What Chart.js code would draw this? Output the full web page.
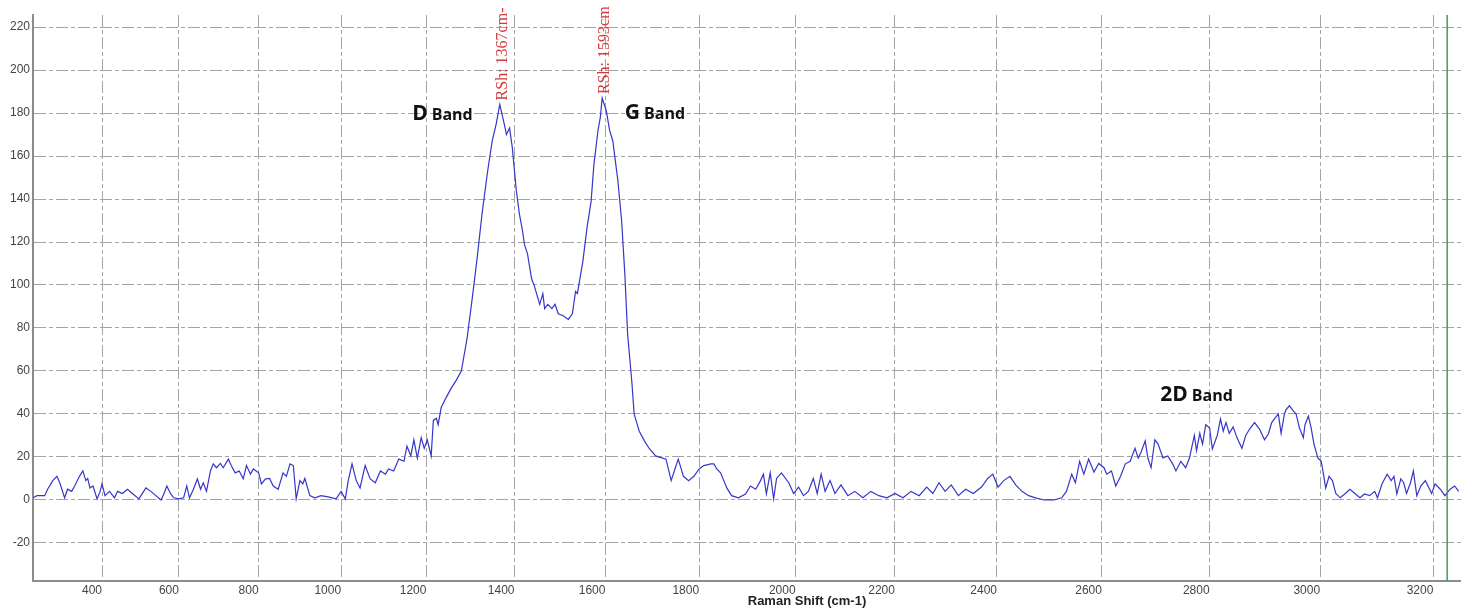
<!DOCTYPE html>
<html>
<head>
<meta charset="utf-8">
<title>Raman spectrum</title>
<script src="https://cdn.jsdelivr.net/npm/chart.js@4.4.1/dist/chart.umd.min.js"></script>
<style>
  html, body { margin: 0; padding: 0; background: #fff; }
  #wrap { width: 1461px; height: 612px; }
</style>
</head>
<body>
<div id="wrap"><canvas id="spectrum" width="1461" height="612"></canvas></div>
<script>
// Raman spectrum - D, G and 2D bands

const ramanShift = [
    214, 225, 246, 254, 268, 279, 287, 300, 308, 319, 327, 340, 349, 357, 362, 368, 376, 387, 395,
    400, 408, 420, 433, 441, 454, 467, 480, 497, 515, 528, 541, 554, 562, 569, 579, 587,
    600, 612, 620, 627, 637, 647, 655, 662, 670, 680, 687, 695, 705, 712, 725, 732, 742, 752, 762, 770, 780, 787,
    800, 807, 817, 827, 836, 848, 860, 868, 877, 885, 892, 901, 908, 913, 925, 937, 952, 969, 988,
    1000, 1010, 1017, 1026, 1036, 1045, 1057, 1069, 1081, 1093, 1105, 1112, 1124, 1136, 1148, 1155, 1164, 1171, 1179, 1188, 1195,
    1202, 1211, 1216, 1223, 1227, 1234, 1245, 1257, 1268, 1280, 1293, 1305, 1316, 1327, 1339, 1350, 1359, 1367, 1377, 1382, 1389, 1395,
    1400, 1404, 1411, 1418, 1422, 1429, 1438, 1445, 1456, 1463, 1467, 1474, 1483, 1490, 1497, 1508, 1519, 1528, 1535, 1539, 1551, 1560, 1569, 1575, 1584, 1589, 1593,
    1602, 1609, 1616, 1627, 1635, 1642, 1648, 1657, 1662, 1666, 1673, 1684, 1695, 1708, 1730, 1741, 1749, 1756, 1767, 1778, 1789,
    1800, 1810, 1825, 1831, 1837, 1845, 1858, 1868, 1882, 1897, 1907, 1918, 1928, 1934, 1940, 1948, 1955, 1961, 1971, 1986, 1996,
    2006, 2016, 2026, 2036, 2044, 2052, 2060, 2070, 2080, 2092, 2106, 2120, 2136, 2152, 2168, 2184,
    2200, 2216, 2232, 2248, 2263, 2275, 2287, 2299, 2311, 2325, 2339, 2354, 2370, 2382, 2392,
    2402, 2413, 2425, 2436, 2448, 2461, 2474, 2490, 2509, 2524, 2533, 2543, 2550, 2558, 2566, 2575, 2585, 2594,
    2604, 2609, 2618, 2626, 2635, 2644, 2653, 2662, 2668, 2673, 2681, 2686, 2692, 2699, 2705, 2714, 2723, 2732, 2738, 2747, 2756, 2763, 2772, 2776, 2782, 2787, 2793,
    2800, 2805, 2814, 2820, 2825, 2830, 2836, 2843, 2850, 2859, 2866, 2873, 2882, 2891, 2900, 2907, 2913, 2918, 2925, 2930, 2936, 2939, 2945, 2952, 2957, 2963, 2970, 2973, 2979, 2984, 2989, 2996,
    3002, 3005, 3010, 3016, 3022, 3028, 3036, 3045, 3053, 3062, 3071, 3079, 3088, 3097, 3102, 3110, 3119, 3126, 3131, 3136, 3143, 3148, 3153, 3160, 3165, 3171, 3178, 3186, 3197,
    3203, 3212, 3220, 3229, 3237, 3244
];

const intensity = [
    1, 2, 2, 5, 9, 11, 8, 1, 5, 4, 6.5, 11, 13.5, 9, 10, 5.6, 6.5, 0.5, 4,
    7.5, 2, 4, 1, 4, 3, 5, 3, 0.5, 5.6, 4, 2, 0, 3, 6.5, 2.8, 1,
    0.5, 1, 6.5, 1, 5, 9.8, 5, 8, 4, 13.5, 16.8, 15, 17, 15, 19, 16, 12.6, 13.5, 9.8, 16, 12, 14.4,
    12.6, 7.5, 9.8, 10, 6.5, 5, 12.6, 11, 16.8, 16, 0.5, 9, 7.5, 10, 2, 1, 2, 1.4, 0.5,
    4, 0.5, 9, 16.8, 9, 5.6, 16, 9.8, 8, 13.5, 12, 14.4, 13.5, 19, 18, 25, 20.5, 28, 19.5, 29, 24,
    28, 20.5, 37, 38, 35, 43, 47.5, 52, 55.5, 60, 75, 94, 112.6, 133, 152, 167, 175, 184, 175, 170, 173, 164,
    153, 144, 133, 125, 119, 114.5, 103, 99, 91, 96, 89, 91, 89, 91, 86.6, 85.7, 84, 86.6, 97, 96, 111, 126.6, 139, 156, 172, 178, 187,
    181, 172, 167, 148.5, 130, 105, 77, 55, 40, 37, 32, 27.5, 23.7, 20.5, 19, 9, 14.4, 19, 11, 9, 11,
    14.4, 16, 16.8, 16.8, 14.4, 12.6, 5.6, 2, 1, 2.8, 6.5, 5, 9, 12, 2.8, 12.6, 0.5, 10, 12.6, 8, 3,
    6, 2, 4, 10, 3, 12, 4, 9, 3, 7, 2, 4, 1, 4, 2, 1,
    3, 1, 4, 2, 6, 3, 8, 4, 7, 2, 5, 3, 6, 10, 12,
    6, 9, 11, 7, 4, 2, 1, 0, 0, 1, 4, 12, 8, 18, 12, 19, 13, 17,
    15, 12, 13.5, 6.5, 11, 16.8, 18, 24, 19.5, 22, 27.5, 19.5, 15, 28, 26, 19.5, 20.5, 16.8, 13.5, 18, 15, 19.5, 30, 23, 31, 26, 35,
    33.5, 23.7, 30, 37.7, 32, 36, 31, 34, 29, 24, 30, 33, 36, 33, 28, 30.7, 36, 37.7, 40, 31, 40, 42, 43.8, 41.4, 40, 33.5, 29, 35, 39, 33.5, 26, 19.5,
    18, 13.5, 5.6, 11, 9, 3, 1, 3, 5, 3, 1, 2.8, 2, 4, 1, 7.5, 12, 9, 11, 2.8, 9.8, 8, 3, 8, 13.5, 2, 6.5, 9, 3,
    7.5, 5, 2, 5, 6.5, 4
];

// axis limits and tick steps
const shiftMin = 214;
const shiftMax = 3248;
const shiftTickLimit = 20;   // gives 200 cm-1 steps
const intensityMin = -37.7;
const intensityMax = 225.6;
const intensityStep = 20;

// peak markers written by the instrument software
const peakShifts = [1367, 1593];
const peakTags = ['RSh: 1367cm-', 'RSh: 1593cm'];

// band names written on the plot
const bandNames = ['D', 'G', '2D'];
const bandShifts = [1167, 1642, 2709];
const bandIntensities = [176.8, 177.2, 46];

// green cursor line
const cursorShift = 3224;

// the picture's shift axis is stretched towards the high end,
// so the x scale is a linear scale with a quadratic spread
const STRETCH = 0.2256;

function stretch(d) {
    return d + STRETCH * (d * d - d);
}

function unstretch(w) {
    const b = 1 - STRETCH;
    return (-b + Math.sqrt(b * b + 4 * STRETCH * w)) / (2 * STRETCH);
}

class StretchedScale extends Chart.LinearScale {
    getPixelForDecimal(decimal) {
        return super.getPixelForDecimal(stretch(decimal));
    }
    getDecimalForPixel(pixel) {
        return unstretch(super.getDecimalForPixel(pixel));
    }
}
StretchedScale.id = 'stretched';
StretchedScale.defaults = Chart.LinearScale.defaults;
Chart.register(StretchedScale);

const tickFont = { family: '"Liberation Sans", Arial, sans-serif', size: 12 };

// extra drawing: cursor, peak tags, band names, axis title
const annotations = {
    id: 'annotations',
    afterDatasetsDraw(chart) {
        const { ctx, chartArea } = chart;
        const x = chart.scales.x;
        const y = chart.scales.y;
        ctx.save();

        // cursor
        const cx = x.getPixelForValue(cursorShift);
        ctx.strokeStyle = '#44a044';
        ctx.lineWidth = 1.5;
        ctx.beginPath();
        ctx.moveTo(cx, chartArea.top);
        ctx.lineTo(cx, chartArea.bottom);
        ctx.stroke();

        // peak tags, rotated, sitting on the peaks
        ctx.fillStyle = '#d23c3c';
        ctx.font = '16px "Liberation Serif", serif';
        ctx.textAlign = 'left';
        ctx.textBaseline = 'middle';
        peakShifts.forEach(function(s, i) {
            const top = intensity[ramanShift.indexOf(s)];
            ctx.save();
            ctx.translate(x.getPixelForValue(s) + 3, y.getPixelForValue(top) - 4);
            ctx.rotate(-Math.PI / 2);
            ctx.fillText(peakTags[i], 0, 0);
            ctx.restore();
        });

        // band names
        ctx.fillStyle = '#111';
        ctx.textBaseline = 'alphabetic';
        bandNames.forEach(function(name, i) {
            const bx = x.getPixelForValue(bandShifts[i]);
            const by = y.getPixelForValue(bandIntensities[i]);
            ctx.font = 'bold 21px "Open Sans", sans-serif';
            ctx.fillText(name, bx, by);
            const w = ctx.measureText(name).width;
            ctx.font = 'bold 16px "Open Sans", sans-serif';
            ctx.fillText('Band', bx + w + 4, by);
        });

        // axis title
        ctx.fillStyle = '#222';
        ctx.font = 'bold 13px "Liberation Sans", Arial, sans-serif';
        ctx.textAlign = 'center';
        ctx.textBaseline = 'middle';
        ctx.fillText('Raman Shift (cm-1)', chartArea.left + 0.542 * (chartArea.right - chartArea.left), 601);

        ctx.restore();
    }
};

const points = ramanShift.map(function(s, i) {
    return { x: s, y: intensity[i] };
});

const ctx = document.getElementById('spectrum').getContext('2d');
new Chart(ctx, {
    type: 'line',
    data: {
        datasets: [{
            label: 'Intensity',
            data: points,
            borderColor: '#3636c8',
            borderWidth: 1.2,
            pointRadius: 0,
            tension: 0,
            fill: false
        }]
    },
    options: {
        responsive: false,
        devicePixelRatio: 1,
        animation: false,
        layout: { padding: { top: 15, left: 0, right: 0, bottom: 0 } },
        plugins: {
            legend: { display: false },
            tooltip: { enabled: false }
        },
        scales: {
            x: {
                type: 'stretched',
                min: shiftMin,
                max: shiftMax,
                ticks: {
                    maxTicksLimit: shiftTickLimit,
                    includeBounds: false,
                    align: 'end',
                    padding: 2,
                    maxRotation: 0,
                    autoSkip: false,
                    color: '#444',
                    font: tickFont,
                    callback: function(v) { return String(v); }
                },
                grid: { color: '#a4a4a4', lineWidth: 1, drawTicks: false },
                border: { display: true, color: '#8c8c8c', width: 2, dash: [12, 3, 4, 3] },
                afterFit: function(scale) { scale.height = 31; }
            },
            y: {
                type: 'linear',
                min: intensityMin,
                max: intensityMax,
                ticks: {
                    stepSize: intensityStep,
                    includeBounds: false,
                    padding: 3,
                    color: '#444',
                    font: tickFont,
                    callback: function(v) { return String(v); }
                },
                grid: { color: '#a4a4a4', lineWidth: 1, drawTicks: false },
                border: { display: true, color: '#8c8c8c', width: 2, dash: [12, 3, 4, 3] },
                afterFit: function(scale) { scale.width = 33; }
            }
        }
    },
    plugins: [annotations]
});
</script>
</body>
</html>
